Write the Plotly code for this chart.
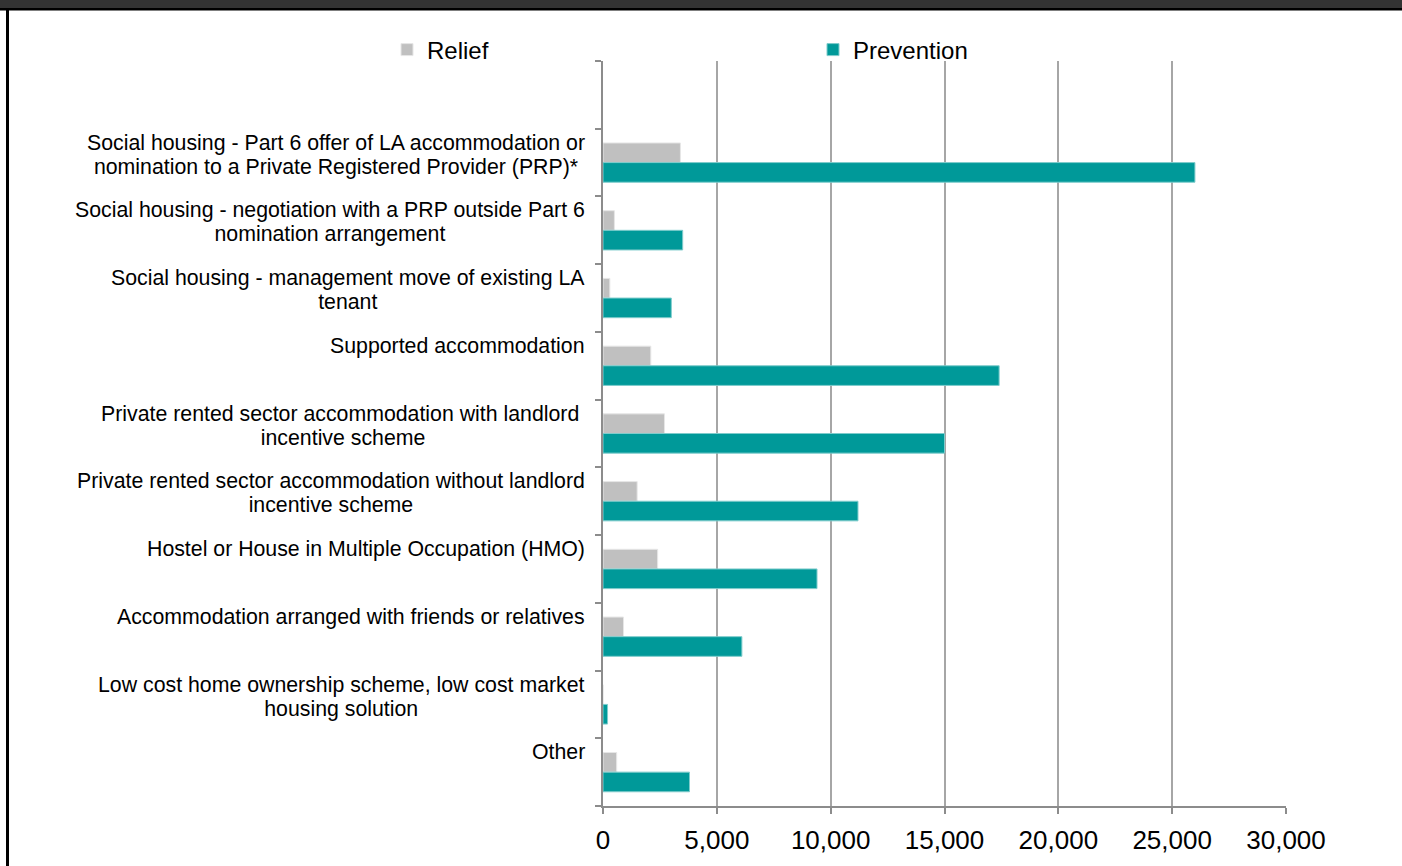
import plotly.graph_objects as go

categories = [
    "Social housing - Part 6 offer of LA accommodation or<br>nomination to a Private Registered Provider (PRP)*",
    "Social housing - negotiation with a PRP outside Part 6<br>nomination arrangement",
    "Social housing - management move of existing LA<br>tenant",
    "Supported accommodation",
    "Private rented sector accommodation with landlord\u00a0<br>incentive scheme",
    "Private rented sector accommodation without landlord<br>incentive scheme",
    "Hostel or House in Multiple Occupation (HMO)",
    "Accommodation arranged with friends or relatives",
    "Low cost home ownership scheme, low cost market<br>housing solution",
    "Other",
]
relief = [3400, 500, 300, 2100, 2700, 1500, 2400, 900, 0, 600]
prevention = [26000, 3500, 3000, 17400, 15000, 11200, 9400, 6100, 200, 3800]
x_tick_vals = [0, 5000, 10000, 15000, 20000, 25000, 30000]
x_tick_text = ["0", "5,000", "10,000", "15,000", "20,000", "25,000", "30,000"]

W, H = 1402, 866
L, R, T, B = 603, 1286, 61, 806
FONT = "Liberation Sans, Arial, sans-serif"

def px_x(p):
    return (p - L) / (R - L)

def px_y(p):
    return (B - p) / (B - T)

ypos = list(range(1, len(categories) + 1))

fig = go.Figure()
fig.add_trace(go.Bar(
    name="Relief", y=ypos, x=relief, orientation="h",
    marker=dict(color="#c0c0c0", line=dict(color="#e6e6e6", width=1)),
))
fig.add_trace(go.Bar(
    name="Prevention", y=ypos, x=prevention, orientation="h",
    marker=dict(color="#009999", line=dict(color="#7fcccc", width=1)),
))

annotations = []
for i, lab in zip(ypos, categories):
    lines = lab.split("<br>")
    txt = "<br>".join('<span style="font-size:21.3px">%s</span>' % ln for ln in lines)
    annotations.append(dict(
        text=txt, xref="paper", yref="y", x=px_x(587), y=i - 0.5,
        xanchor="right", yanchor="top", align="center", showarrow=False,
        font=dict(family=FONT, size=18.5, color="#000000"),
    ))

shapes = [
    dict(type="rect", xref="paper", yref="paper", x0=px_x(0), x1=px_x(W),
         y0=px_y(8), y1=px_y(0), fillcolor="#333333", line=dict(width=0), layer="above"),
    dict(type="rect", xref="paper", yref="paper", x0=px_x(0), x1=px_x(W),
         y0=px_y(10.5), y1=px_y(8), fillcolor="#000000", line=dict(width=0), layer="above"),
    dict(type="rect", xref="paper", yref="paper", x0=px_x(6), x1=px_x(9),
         y0=px_y(H), y1=px_y(8), fillcolor="#000000", line=dict(width=0), layer="above"),
]

fig.update_layout(
    width=W, height=H,
    margin=dict(l=L, r=W - R, t=T, b=H - B, pad=0),
    paper_bgcolor="#ffffff", plot_bgcolor="#ffffff",
    barmode="group", bargap=0.42, bargroupgap=0,
    font=dict(family=FONT, color="#000000"),
    showlegend=True,
    legend=dict(
        orientation="h", x=px_x(387), xanchor="left", y=px_y(50), yanchor="middle",
        font=dict(family=FONT, size=24, color="#000000"),
        entrywidth=381, entrywidthmode="pixels", itemwidth=30,
        bgcolor="rgba(0,0,0,0)", traceorder="normal",
    ),
    xaxis=dict(
        range=[0, 30000], tickvals=x_tick_vals, ticktext=x_tick_text,
        showgrid=True, gridcolor="#a6a6a6", gridwidth=2,
        showline=True, linecolor="#8c8c8c", linewidth=2,
        ticks="outside", ticklen=6, tickwidth=2, tickcolor="#8c8c8c",
        ticklabelstandoff=4,
        tickfont=dict(family=FONT, size=26, color="#000000"),
        zeroline=False, fixedrange=True,
    ),
    yaxis=dict(
        range=[len(categories) + 0.5, -0.5],
        tickvals=[k - 0.5 for k in range(0, len(categories) + 2)],
        showticklabels=False, showgrid=False,
        showline=True, linecolor="#8c8c8c", linewidth=2,
        ticks="outside", ticklen=6, tickwidth=2, tickcolor="#8c8c8c",
        zeroline=False, fixedrange=True,
    ),
    annotations=annotations,
    shapes=shapes,
)

fig.write_html("out.html", config={"displayModeBar": False},
               post_script="document.body.style.margin='0';")
